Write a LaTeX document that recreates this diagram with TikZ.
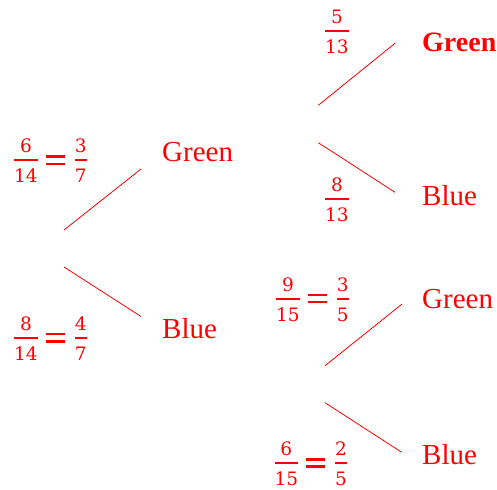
\documentclass[tikz,border=0pt]{standalone}
\usepackage{fontspec}
\usepackage{amsmath}
\setmainfont{Liberation Serif}
\newfontfamily\digitfont{DejaVu Serif}
\newcommand\fr[2]{\genfrac{}{}{2pt}{0}{\hbox{#1}}{\hbox{\rule{0pt}{15.6pt}#2}}}
\newcommand\eqs{\vcenter{\offinterlineskip\hbox{\rule{19pt}{2.6pt}}\vskip 4.6pt\hbox{\rule{19pt}{2.6pt}}}}
\newcommand\eqn[4]{$\fr{#1}{#2}\hspace{7pt}\eqs\hspace{8.8pt}\fr{#3}{#4}$}
\begin{document}
\begin{tikzpicture}[x=1pt,y=-1pt,
  lab/.style={text=red, font=\fontsize{29}{34}\selectfont, inner sep=0pt, anchor=base west},
  prob/.style={text=red, font=\fontsize{18.5}{21}\selectfont\digitfont, inner sep=0pt, anchor=base west},
  branch/.style={draw=red, line width=0.8pt}]
\useasboundingbox (0,0) rectangle (497,489);
% first stage (baseline = bar + 4.6)
\node[prob] (p1) at (12.8,164.6) {\eqn{6}{14}{3}{7}};
\node[prob] (p2) at (12.8,342.1) {\eqn{8}{14}{4}{7}};
\node[lab] (g1) at (162,161.5) {Green};
\node[lab] (b1) at (162,338.5) {Blue};
\coordinate (r1a) at (64,230);
\coordinate (r1b) at (64,267);
\coordinate (e1a) at (141,169);
\coordinate (e1b) at (141,316.5);
\draw[branch] (r1a) -- (e1a);
\draw[branch] (r1b) -- (e1b);
% second stage, upper
\node[prob] (p3) at (323.8,35.6) {$\fr{5}{13}$};
\node[prob] (p4) at (323.8,203.6) {$\fr{8}{13}$};
\node[lab, font=\fontsize{28}{34}\selectfont\bfseries] (g2) at (422,51.7) {Green};
\node[lab] (b2) at (422,205.7) {Blue};
\coordinate (r2a) at (318.3,105.3);
\coordinate (r2b) at (318.3,142.7);
\coordinate (e2a) at (395,43.3);
\coordinate (e2b) at (395,192.3);
\draw[branch] (r2a) -- (e2a);
\draw[branch] (r2b) -- (e2b);
% second stage, lower
\node[prob] (p5) at (274.8,302.9) {\eqn{9}{15}{3}{5}};
\node[prob] (p6) at (273.1,467.4) {\eqn{6}{15}{2}{5}};
\node[lab] (g3) at (422,308.3) {Green};
\node[lab] (b3) at (422,464.3) {Blue};
\coordinate (r3a) at (325,365.7);
\coordinate (r3b) at (325,402.7);
\coordinate (e3a) at (401.7,304.3);
\coordinate (e3b) at (401.7,452.3);
\draw[branch] (r3a) -- (e3a);
\draw[branch] (r3b) -- (e3b);
\end{tikzpicture}
\end{document}
